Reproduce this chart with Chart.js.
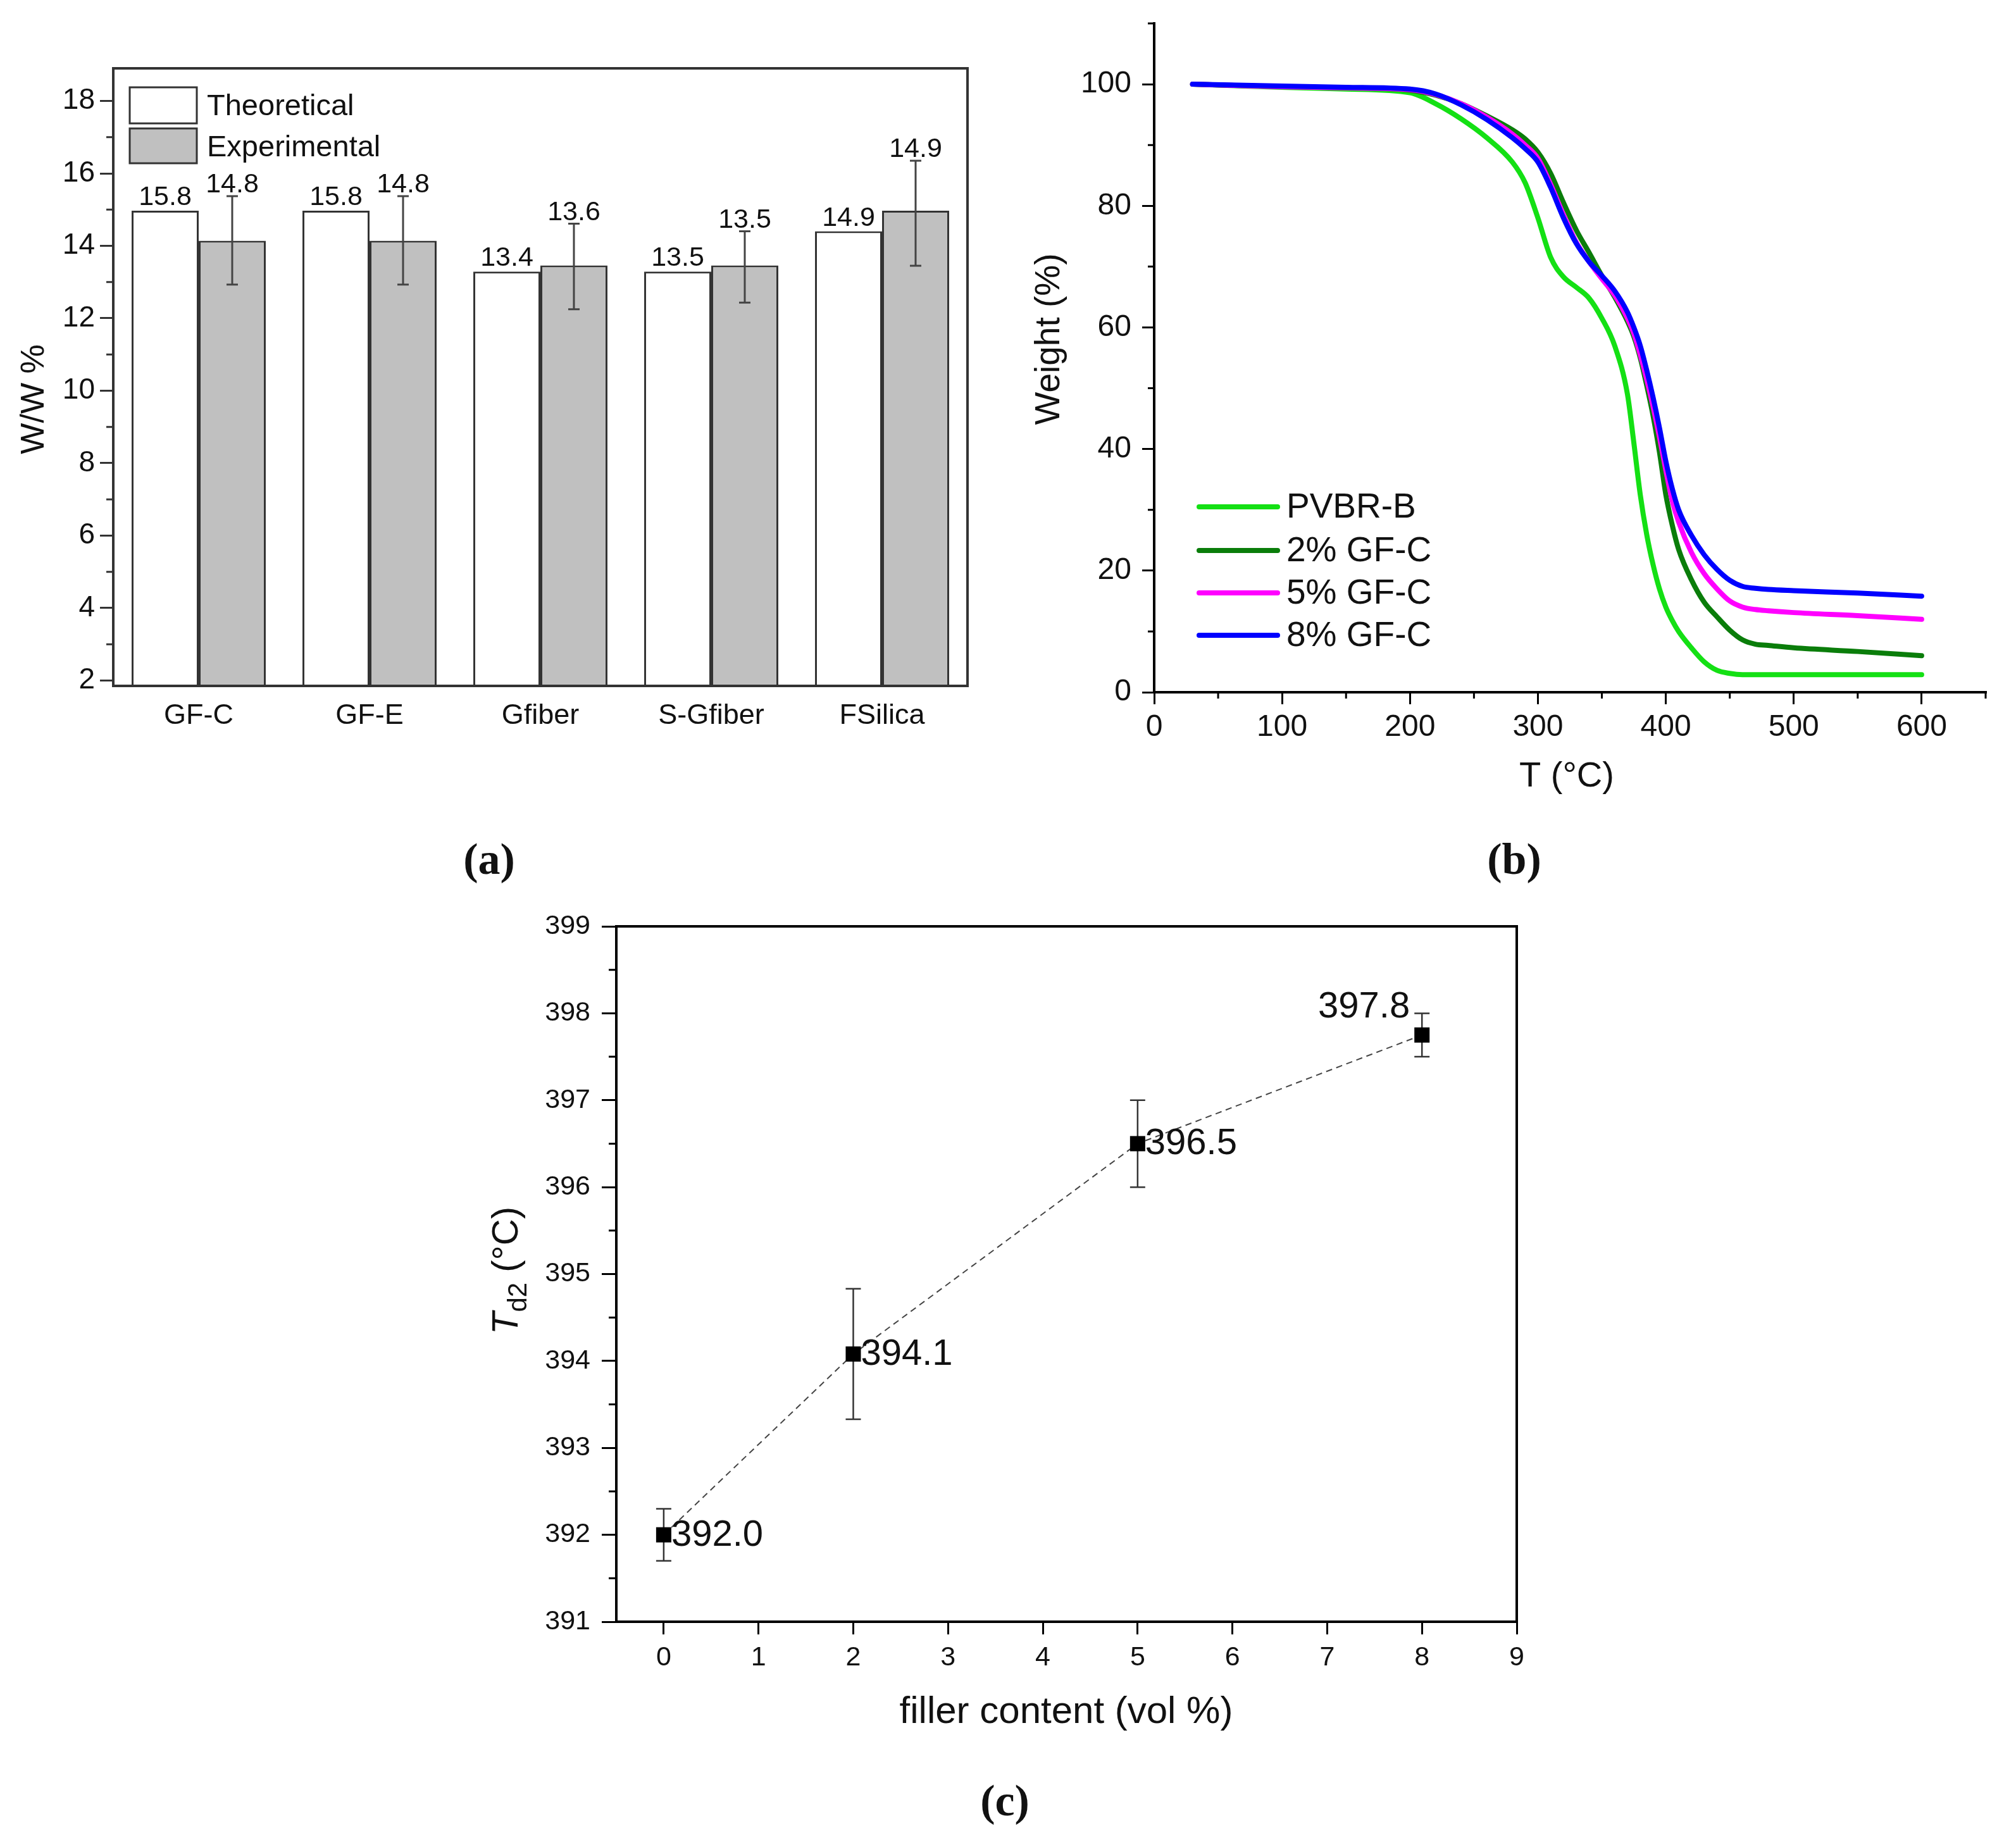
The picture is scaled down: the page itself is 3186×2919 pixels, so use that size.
<!DOCTYPE html>
<html>
<head>
<meta charset="utf-8">
<script src="https://cdn.jsdelivr.net/npm/chart.js@4.4.1/dist/chart.umd.min.js"></script>
<style>
  html, body { margin: 0; padding: 0; background: #fff; }
  #page { position: relative; width: 3186px; height: 2919px; background: #fff; overflow: hidden; }
  canvas { position: absolute; }
  .tag { position: absolute; transform: translate(-50%, -50%); font-family: "Liberation Serif", serif; font-weight: bold; font-size: 70px; color: #111; }
</style>
</head>
<body>
<div id="page">
  <canvas id="chartA" width="1600" height="1300" style="left:0px;top:0px"></canvas>
  <canvas id="chartB" width="1586" height="1300" style="left:1600px;top:0px"></canvas>
  <canvas id="chartC" width="1800" height="1400" style="left:700px;top:1380px"></canvas>
  <div class="tag" style="left:773px;top:1358px">(a)</div>
  <div class="tag" style="left:2393px;top:1358px">(b)</div>
  <div class="tag" style="left:1588px;top:2846px">(c)</div>
</div>
<script>
const SANS = '"Liberation Sans", Arial, sans-serif';

// (a) filler loading, theoretical vs experimental
const fillers = ['GF-C', 'GF-E', 'Gfiber', 'S-Gfiber', 'FSilica'];
const theoretical = [14.97, 14.97, 13.29, 13.29, 14.40];
const experimental = [14.14, 14.14, 13.46, 13.46, 14.97];
const expErrLow = [12.93, 12.93, 12.25, 12.43, 13.45];
const expErrHigh = [15.37, 15.37, 14.61, 14.40, 16.35];
const theoreticalText = ['15.8', '15.8', '13.4', '13.5', '14.9'];
const experimentalText = ['14.8', '14.8', '13.6', '13.5', '14.9'];
const wwTicks = [2, 4, 6, 8, 10, 12, 14, 16, 18];

// (b) TGA curves
const tgaTemp = [30, 100, 150, 200, 220, 240, 260, 280, 290, 300, 310, 320, 330, 340, 350, 360, 370, 375, 380, 385, 390, 395, 400, 405, 410, 420, 430, 440, 450, 460, 470, 480, 500, 550, 600];
const wPVBR = [100, 99.5, 99.2, 98.6, 96.8, 94.3, 91.2, 87.2, 83.8, 78.0, 71.5, 68.3, 66.6, 64.8, 61.5, 57.0, 49.0, 41.0, 32.5, 26.0, 21.0, 17.0, 14.0, 11.8, 10.0, 7.3, 5.0, 3.6, 3.1, 2.9, 2.9, 2.9, 2.9, 2.9, 2.9];
const wGF2 = [100, 99.6, 99.4, 99.0, 98.2, 96.8, 94.8, 92.5, 91.0, 88.8, 85.3, 80.5, 76.0, 72.3, 68.5, 65.0, 61.0, 58.5, 55.0, 50.5, 45.5, 39.5, 32.5, 27.5, 23.5, 18.5, 14.8, 12.4, 10.2, 8.6, 7.9, 7.7, 7.3, 6.7, 6.0];
const wGF5 = [100, 99.6, 99.4, 99.1, 98.3, 96.8, 94.6, 91.8, 90.0, 87.8, 83.5, 78.5, 74.0, 70.8, 68.0, 65.3, 61.5, 59.0, 55.5, 51.5, 47.0, 42.0, 36.5, 31.5, 28.0, 23.0, 19.5, 17.0, 15.0, 14.0, 13.6, 13.4, 13.1, 12.6, 12.0];
const wGF8 = [100, 99.7, 99.5, 99.2, 98.4, 96.6, 94.2, 91.2, 89.4, 87.2, 83.0, 78.0, 73.8, 70.8, 68.5, 66.0, 62.5, 60.0, 57.0, 53.0, 48.5, 43.5, 38.0, 33.5, 30.0, 25.8, 22.6, 20.2, 18.4, 17.4, 17.1, 16.9, 16.7, 16.3, 15.8];
const tgaNames = ['PVBR-B', '2% GF-C', '5% GF-C', '8% GF-C'];
const tgaColors = ['#14e014', '#0a7d0a', '#ff00ff', '#0000ff'];
const tempTicks = [0, 100, 200, 300, 400, 500, 600];
const weightTicks = [0, 20, 40, 60, 80, 100];

// (c) Td2 vs filler content
const fillerContent = [0, 2, 5, 8];
const td2 = [392.0, 394.08, 396.5, 397.75];
const td2ErrLow = [391.7, 393.33, 396.0, 397.5];
const td2ErrHigh = [392.3, 394.83, 397.0, 398.0];
const td2Text = ['392.0', '394.1', '396.5', '397.8'];
const contentTicks = [0, 1, 2, 3, 4, 5, 6, 7, 8, 9];
const td2Ticks = [391, 392, 393, 394, 395, 396, 397, 398, 399];

// ---------- helpers ----------
function fixTicks(values) {
  return function (scale) { scale.ticks = values.map(v => ({ value: v })); };
}

// fixed axis size, and no extra label overhang padding so the plot box lands where we want
function fixSize(size) {
  return function (s) {
    if (s.isHorizontal()) s.height = size; else s.width = size;
    s.paddingTop = 0; s.paddingBottom = 0; s.paddingLeft = 0; s.paddingRight = 0;
  };
}

function text(ctx, str, x, y, font, align, baseline, rot) {
  ctx.save();
  ctx.translate(x, y);
  if (rot) ctx.rotate(rot);
  ctx.font = font;
  ctx.fillStyle = '#111';
  ctx.textAlign = align || 'center';
  ctx.textBaseline = baseline || 'alphabetic';
  ctx.fillText(str, 0, 0);
  ctx.restore();
}

function minorTicks(chart, axisId, values, len, color, width) {
  const s = chart.scales[axisId], a = chart.chartArea, ctx = chart.ctx;
  ctx.save();
  ctx.strokeStyle = color;
  ctx.lineWidth = width;
  ctx.beginPath();
  values.forEach(v => {
    const p = s.getPixelForValue(v);
    if (s.isHorizontal()) { ctx.moveTo(p, a.bottom); ctx.lineTo(p, a.bottom + len); }
    else { ctx.moveTo(a.left, p); ctx.lineTo(a.left - len, p); }
  });
  ctx.stroke();
  ctx.restore();
}

function frame(chart, full, color, width) {
  const a = chart.chartArea, ctx = chart.ctx;
  ctx.save();
  ctx.strokeStyle = color;
  ctx.lineWidth = width;
  ctx.lineCap = 'square';
  ctx.beginPath();
  if (full) {
    ctx.rect(a.left, a.top, a.right - a.left, a.bottom - a.top);
  } else {
    ctx.moveTo(a.left, a.top);
    ctx.lineTo(a.left, a.bottom);
    ctx.lineTo(a.right, a.bottom);
  }
  ctx.stroke();
  ctx.restore();
}

function errorBars(chart, dsIndex, lows, highs, cap, color, width) {
  const meta = chart.getDatasetMeta(dsIndex), y = chart.scales.y, ctx = chart.ctx;
  ctx.save();
  ctx.strokeStyle = color;
  ctx.lineWidth = width;
  ctx.beginPath();
  meta.data.forEach((el, i) => {
    const y1 = y.getPixelForValue(lows[i]), y2 = y.getPixelForValue(highs[i]);
    ctx.moveTo(el.x, y1); ctx.lineTo(el.x, y2);
    ctx.moveTo(el.x - cap, y1); ctx.lineTo(el.x + cap, y1);
    ctx.moveTo(el.x - cap, y2); ctx.lineTo(el.x + cap, y2);
  });
  ctx.stroke();
  ctx.restore();
}

function steps(from, to, step) {
  const out = [];
  for (let v = from; v <= to + 1e-9; v += step) out.push(+v.toFixed(3));
  return out;
}

// ---------- (a) ----------
new Chart(document.getElementById('chartA'), {
  type: 'bar',
  data: {
    labels: fillers,
    datasets: [
      { label: 'Theoretical', data: theoretical, backgroundColor: '#ffffff', borderColor: '#333333', borderWidth: 3 },
      { label: 'Experimental', data: experimental, backgroundColor: '#c0c0c0', borderColor: '#333333', borderWidth: 3 }
    ]
  },
  options: {
    responsive: false,
    animation: false,
    devicePixelRatio: 1,
    layout: { padding: { left: 0, top: 108, right: 71, bottom: 0 } },
    plugins: { legend: { display: false }, tooltip: { enabled: false } },
    datasets: { bar: { categoryPercentage: 0.785, barPercentage: 1.0 } },
    scales: {
      x: {
        grid: { display: false },
        border: { display: false },
        ticks: { font: { family: SANS, size: 45 }, color: '#111', padding: 13 },
        afterFit: fixSize(216)
      },
      y: {
        min: 1.85,
        max: 18.9,
        afterBuildTicks: fixTicks(wwTicks),
        grid: { drawOnChartArea: false, tickLength: 21, lineWidth: 3, color: '#333' },
        border: { display: false },
        ticks: { font: { family: SANS, size: 46 }, color: '#111', padding: 8 },
        afterFit: fixSize(179)
      }
    }
  },
  plugins: [{
    id: 'panelA',
    afterDatasetsDraw(chart) {
      const ctx = chart.ctx, y = chart.scales.y;
      errorBars(chart, 1, expErrLow, expErrHigh, 9, '#444', 3);
      const mT = chart.getDatasetMeta(0), mE = chart.getDatasetMeta(1);
      const f = '43px ' + SANS;
      mT.data.forEach((el, i) => text(ctx, theoreticalText[i], el.x, y.getPixelForValue(theoretical[i]) - 9, f, 'center'));
      mE.data.forEach((el, i) => text(ctx, experimentalText[i], el.x, y.getPixelForValue(expErrHigh[i]) - 6, f, 'center'));
    },
    afterDraw(chart) {
      const ctx = chart.ctx;
      frame(chart, true, '#333', 4);
      minorTicks(chart, 'y', steps(3, 17, 2), 11, '#333', 3);
      // legend
      const boxes = [[205, 138, 57], [205, 203, 55]];
      chart.data.datasets.forEach((ds, i) => {
        const b = boxes[i];
        ctx.save();
        ctx.fillStyle = ds.backgroundColor;
        ctx.strokeStyle = '#333';
        ctx.lineWidth = 3;
        ctx.fillRect(b[0], b[1], 106, b[2]);
        ctx.strokeRect(b[0], b[1], 106, b[2]);
        ctx.restore();
        text(ctx, ds.label, 327, b[1] + 44, '47px ' + SANS, 'left');
      });
      text(ctx, 'W/W %', 55, 631, '52px ' + SANS, 'center', 'middle', -Math.PI / 2);
    }
  }]
});

// ---------- (b) ----------
const tgaSeries = [wPVBR, wGF2, wGF5, wGF8];
new Chart(document.getElementById('chartB'), {
  type: 'line',
  data: {
    datasets: tgaSeries.map((w, k) => ({
      label: tgaNames[k],
      data: tgaTemp.map((t, i) => ({ x: t, y: w[i] })),
      borderColor: tgaColors[k],
      borderWidth: 8,
      borderCapStyle: 'round',
      pointRadius: 0,
      cubicInterpolationMode: 'monotone',
      fill: false,
      order: 3 - k
    }))
  },
  options: {
    responsive: false,
    animation: false,
    devicePixelRatio: 1,
    layout: { padding: { left: 0, top: 37, right: 48, bottom: 0 } },
    plugins: { legend: { display: false }, tooltip: { enabled: false } },
    scales: {
      x: {
        type: 'linear',
        min: 0,
        max: 650,
        afterBuildTicks: fixTicks(tempTicks),
        grid: { drawOnChartArea: false, tickLength: 19, lineWidth: 3, color: '#000' },
        border: { display: false },
        ticks: { font: { family: SANS, size: 48 }, color: '#111', padding: 8 },
        afterFit: fixSize(206)
      },
      y: {
        min: 0,
        max: 110,
        afterBuildTicks: fixTicks(weightTicks),
        grid: { drawOnChartArea: false, tickLength: 19, lineWidth: 3, color: '#000' },
        border: { display: false },
        ticks: { font: { family: SANS, size: 48 }, color: '#111', padding: 17 },
        afterFit: fixSize(224)
      }
    }
  },
  plugins: [{
    id: 'panelB',
    afterDraw(chart) {
      const ctx = chart.ctx;
      frame(chart, false, '#000', 4);
      minorTicks(chart, 'x', steps(50, 650, 100), 10, '#000', 3);
      minorTicks(chart, 'y', steps(10, 110, 20), 10, '#000', 3);
      const rows = [801, 870, 937, 1004];
      chart.data.datasets.forEach((ds, i) => {
        ctx.save();
        ctx.strokeStyle = ds.borderColor;
        ctx.lineWidth = 8;
        ctx.lineCap = 'round';
        ctx.beginPath();
        ctx.moveTo(295, rows[i]);
        ctx.lineTo(419, rows[i]);
        ctx.stroke();
        ctx.restore();
        text(ctx, ds.label, 433, rows[i] + 2, '55px ' + SANS, 'left', 'middle');
      });
      text(ctx, 'Weight (%)', 59, 536, '55px ' + SANS, 'center', 'middle', -Math.PI / 2);
      text(ctx, 'T (°C)', 876, 1228, '56px ' + SANS, 'center', 'middle');
    }
  }]
});

// ---------- (c) ----------
new Chart(document.getElementById('chartC'), {
  type: 'line',
  data: {
    datasets: [{
      label: 'Td2',
      data: fillerContent.map((x, i) => ({ x: x, y: td2[i] })),
      borderColor: '#444',
      borderWidth: 2,
      borderDash: [10, 7],
      pointStyle: 'rect',
      pointRadius: 17,
      pointBackgroundColor: '#000',
      pointBorderWidth: 0,
      tension: 0,
      fill: false
    }]
  },
  options: {
    responsive: false,
    animation: false,
    devicePixelRatio: 1,
    layout: { padding: { left: 0, top: 84, right: 103, bottom: 0 } },
    plugins: { legend: { display: false }, tooltip: { enabled: false } },
    scales: {
      x: {
        type: 'linear',
        min: -0.5,
        max: 9,
        afterBuildTicks: fixTicks(contentTicks),
        grid: { drawOnChartArea: false, tickLength: 20, lineWidth: 3, color: '#000' },
        border: { display: false },
        ticks: { font: { family: SANS, size: 43 }, color: '#111', padding: 11 },
        afterFit: fixSize(217)
      },
      y: {
        min: 391,
        max: 399,
        afterBuildTicks: fixTicks(td2Ticks),
        grid: { drawOnChartArea: false, tickLength: 23, lineWidth: 3, color: '#000' },
        border: { display: false },
        ticks: { font: { family: SANS, size: 43 }, color: '#111', padding: 18 },
        afterFit: fixSize(274)
      }
    }
  },
  plugins: [{
    id: 'panelC',
    beforeDatasetsDraw(chart) {
      errorBars(chart, 0, td2ErrLow, td2ErrHigh, 12, '#333', 2.5);
    },
    afterDatasetsDraw(chart) {
      const ctx = chart.ctx, meta = chart.getDatasetMeta(0);
      const f = '58px ' + SANS;
      meta.data.forEach((el, i) => {
        if (i === meta.data.length - 1) {
          text(ctx, td2Text[i], el.x - 19, el.y - 28, f, 'right', 'alphabetic');
        } else {
          text(ctx, td2Text[i], el.x + 12, el.y + 1, f, 'left', 'middle');
        }
      });
    },
    afterDraw(chart) {
      const ctx = chart.ctx;
      frame(chart, true, '#000', 4);
      minorTicks(chart, 'y', steps(391.5, 398.5, 1), 12, '#000', 3);
      text(ctx, 'filler content (vol %)', 985, 1326, '60px ' + SANS, 'center', 'middle');
      // y title: T italic with subscript d2
      ctx.save();
      ctx.translate(118, 628);
      ctx.rotate(-Math.PI / 2);
      ctx.fillStyle = '#111';
      ctx.textBaseline = 'alphabetic';
      ctx.textAlign = 'left';
      const fIt = 'italic 58px ' + SANS, fSub = '42px ' + SANS, fBig = '58px ' + SANS;
      ctx.font = fIt; const w1 = ctx.measureText('T').width;
      ctx.font = fSub; const w2 = ctx.measureText('d2').width;
      ctx.font = fBig; const w3 = ctx.measureText(' (°C)').width;
      let cx = -(w1 + w2 + w3) / 2;
      ctx.font = fIt; ctx.fillText('T', cx, 0); cx += w1;
      ctx.font = fSub; ctx.fillText('d2', cx, 14); cx += w2;
      ctx.font = fBig; ctx.fillText(' (°C)', cx, 0);
      ctx.restore();
    }
  }]
});
</script>
</body>
</html>
